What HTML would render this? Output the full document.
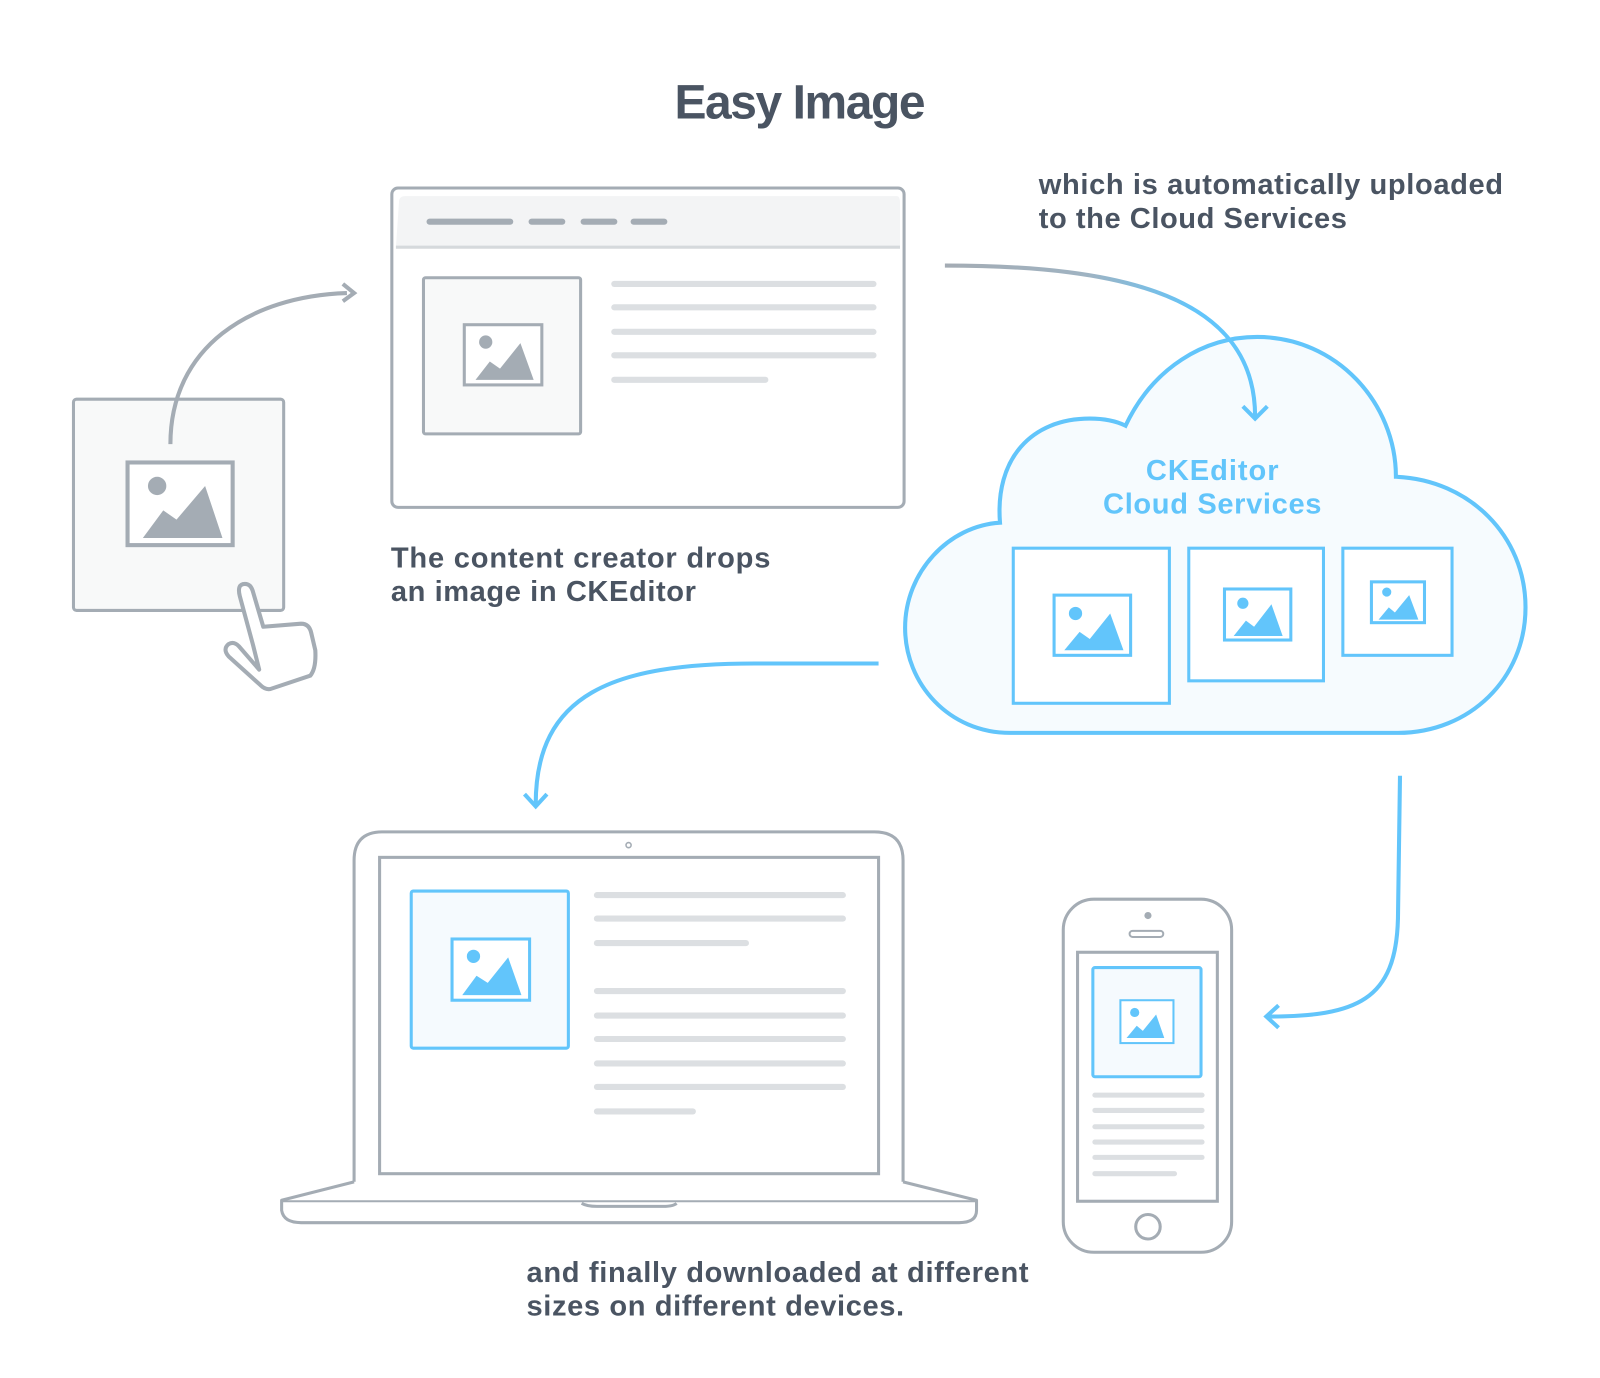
<!DOCTYPE html>
<html><head><meta charset="utf-8"><style>
html,body{margin:0;padding:0;background:#fff;}
svg{display:block;}
text{font-family:"Liberation Sans",sans-serif;font-weight:bold;}
</style></head><body>
<svg width="1600" height="1378" viewBox="0 0 1568 1350" xmlns="http://www.w3.org/2000/svg">
<defs>
<linearGradient id="g1" x1="926" y1="0" x2="1235" y2="0" gradientUnits="userSpaceOnUse">
<stop offset="0" stop-color="#a4acb4"/><stop offset="0.45" stop-color="#9fb3c2"/><stop offset="0.8" stop-color="#62c5fb"/></linearGradient>
</defs>
<rect width="1568" height="1350" fill="#fff"/>
<text x="784" y="116" font-size="47" fill="#4a5462" text-anchor="middle" textLength="246">Easy Image</text>

<!-- small image box -->
<rect x="72" y="391" width="206" height="207" rx="3" fill="#f8f9f9" stroke="#a4acb4" stroke-width="3"/>
<rect x="125" y="453" width="103" height="81" fill="#fff" stroke="#a4acb4" stroke-width="4"/>
<circle cx="154" cy="476" r="9" fill="#a4acb4"/>
<path d="M140,527 L160,500 L173,509 L201,476 L218,527 Z" fill="#a4acb4"/>
<path d="M167,435 C167,340 245,290 340,287" fill="none" stroke="#a4acb4" stroke-width="4"/>
<path d="M336,278 L347,287 L336,295" fill="none" stroke="#a4acb4" stroke-width="4"/>
<!-- hand -->
<path d="M248,632 L235,584 Q232,572 240,572 Q246,572 248,580 L258,614 L295,611 Q303,611 305,620 L309,637 Q310,655 304,662 L265,675 Q260,676 255,671 L224,643 Q218,636 224,631 Q229,628 234,633 L254,656 Z" fill="#fff" stroke="#a4acb4" stroke-width="4" stroke-linejoin="round"/>

<!-- browser -->
<rect x="384" y="184" width="502" height="313" rx="6" fill="#fff" stroke="#a4acb4" stroke-width="3"/>
<path d="M391,198 Q391,192 397,192 L879,192 Q882,192 882,198 L882,242 L388,242 Z" fill="#f3f4f5"/>
<line x1="388" y1="242" x2="882" y2="242" stroke="#d5d9dc" stroke-width="3"/>
<g stroke="#a4acb4" stroke-width="6" stroke-linecap="round">
<line x1="421" y1="217" x2="500" y2="217"/><line x1="521" y1="217" x2="551" y2="217"/><line x1="572" y1="217" x2="602" y2="217"/><line x1="621" y1="217" x2="651" y2="217"/></g>
<rect x="415" y="272" width="154" height="153" rx="2" fill="#f8f9f9" stroke="#a4acb4" stroke-width="3"/>
<rect x="455" y="318" width="76" height="59" fill="#fff" stroke="#a4acb4" stroke-width="3"/>
<circle cx="476" cy="335" r="6.5" fill="#a4acb4"/>
<path d="M466,372 L480,354 L490,361 L510,336 L523,372 Z" fill="#a4acb4"/>
<g stroke="#dcdfe2" stroke-width="6" stroke-linecap="round">
<line x1="602" y1="278" x2="856" y2="278"/><line x1="602" y1="301" x2="856" y2="301"/><line x1="602" y1="325" x2="856" y2="325"/><line x1="602" y1="348" x2="856" y2="348"/><line x1="602" y1="372" x2="750" y2="372"/></g>

<text font-size="28.5" fill="#4a5462"><tspan x="383" y="556" textLength="372">The content creator drops</tspan><tspan x="383" y="589" textLength="299">an image in CKEditor</tspan></text>
<text font-size="28.5" fill="#4a5462"><tspan x="1018" y="190" textLength="455">which is automatically uploaded</tspan><tspan x="1018" y="223" textLength="302">to the Cloud Services</tspan></text>
<text font-size="28.5" fill="#4a5462"><tspan x="516" y="1256" textLength="492">and finally downloaded at different</tspan><tspan x="516" y="1289" textLength="370">sizes on different devices.</tspan></text>

<!-- cloud -->
<path d="M990,718 C930,718 887,670 887,615 C887,560 930,515 980,512 C975,450 1010,410 1068,410 C1085,410 1095,413 1103,417 C1130,360 1180,330 1232,330 C1310,330 1368,395 1368,467 C1440,470 1495,525 1495,595 C1495,665 1440,718 1370,718 Z" fill="#f6fbfe" stroke="#62c5fb" stroke-width="4"/>
<text font-size="28.5" fill="#62c5fb" text-anchor="middle"><tspan x="1188" y="470" textLength="130">CKEditor</tspan><tspan x="1188" y="503" textLength="214">Cloud Services</tspan></text>
<g fill="#fff" stroke="#62c5fb" stroke-width="3">
<rect x="993" y="537" width="153" height="152"/><rect x="1165" y="537" width="132" height="130"/><rect x="1316" y="537" width="107" height="105"/>
<rect x="1033" y="583" width="75" height="59"/><rect x="1200" y="577" width="65" height="50"/><rect x="1344" y="570" width="52" height="40"/></g>
<g fill="#62c5fb">
<circle cx="1054" cy="601" r="6.5"/><path d="M1043,637 L1058,619 L1068,626 L1088,601 L1101,637 Z"/>
<circle cx="1218" cy="591" r="5.5"/><path d="M1209,623 L1221,608 L1229,614 L1246,592 L1257,623 Z"/>
<circle cx="1359" cy="580" r="4.5"/><path d="M1351,607 L1361,595 L1367,600 L1381,583 L1390,607 Z"/></g>

<!-- arrows -->
<path d="M926,260 C1100,260 1230,290 1230,408" fill="none" stroke="url(#g1)" stroke-width="4"/>
<path d="M1218,398 L1230,410 L1242,398" fill="none" stroke="#62c5fb" stroke-width="4"/>
<path d="M861,650 L740,650 C600,650 525,680 525,788" fill="none" stroke="#62c5fb" stroke-width="4"/>
<path d="M514,778 L525,790 L536,778" fill="none" stroke="#62c5fb" stroke-width="4"/>
<path d="M1372,760 L1370,900 C1368,980 1330,996 1242,996" fill="none" stroke="#62c5fb" stroke-width="4"/>
<path d="M1253,985 L1241,996 L1253,1007" fill="none" stroke="#62c5fb" stroke-width="4"/>

<!-- laptop -->
<path d="M347,1158 L347,843 Q347,815 375,815 L857,815 Q885,815 885,843 L885,1158" fill="#fff" stroke="#a4acb4" stroke-width="3"/>
<rect x="372" y="840" width="489" height="310" fill="#fff" stroke="#a4acb4" stroke-width="3"/>
<circle cx="616" cy="828" r="2.5" fill="none" stroke="#a4acb4" stroke-width="1.5"/>
<path d="M347,1158 L276,1176 L276,1186 Q278,1198 295,1198 L940,1198 Q957,1198 957,1186 L957,1176 L885,1158" fill="#fff" stroke="#a4acb4" stroke-width="3" stroke-linejoin="round"/>
<line x1="276" y1="1177" x2="957" y2="1177" stroke="#a4acb4" stroke-width="2"/>
<path d="M570,1179 Q575,1182 585,1182 L650,1182 Q660,1182 663,1179" fill="none" stroke="#a4acb4" stroke-width="3"/>
<rect x="403" y="873" width="154" height="154" rx="2" fill="#f5fafe" stroke="#62c5fb" stroke-width="3"/>
<rect x="443" y="920" width="76" height="60" fill="#fff" stroke="#62c5fb" stroke-width="3"/>
<circle cx="464" cy="937" r="6.5" fill="#62c5fb"/>
<path d="M453,975 L467,956 L478,963 L498,938 L511,975 Z" fill="#62c5fb"/>
<g stroke="#dcdfe2" stroke-width="6" stroke-linecap="round">
<line x1="585" y1="877" x2="826" y2="877"/><line x1="585" y1="900" x2="826" y2="900"/><line x1="585" y1="924" x2="731" y2="924"/>
<line x1="585" y1="971" x2="826" y2="971"/><line x1="585" y1="995" x2="826" y2="995"/><line x1="585" y1="1018" x2="826" y2="1018"/><line x1="585" y1="1042" x2="826" y2="1042"/><line x1="585" y1="1065" x2="826" y2="1065"/><line x1="585" y1="1089" x2="679" y2="1089"/></g>

<!-- phone -->
<rect x="1042" y="881" width="165" height="346" rx="30" fill="#fff" stroke="#a4acb4" stroke-width="3"/>
<rect x="1056" y="933" width="137" height="244" fill="#fff" stroke="#a4acb4" stroke-width="3"/>
<circle cx="1125" cy="897" r="3.5" fill="#a4acb4"/>
<rect x="1107" y="912" width="33" height="6" rx="3" fill="#fff" stroke="#a4acb4" stroke-width="2"/>
<circle cx="1125" cy="1202" r="12" fill="#fff" stroke="#a4acb4" stroke-width="3"/>
<rect x="1071" y="948" width="106" height="107" rx="2" fill="#f5fafe" stroke="#62c5fb" stroke-width="3"/>
<rect x="1098" y="980" width="52" height="42" fill="#fff" stroke="#62c5fb" stroke-width="2"/>
<circle cx="1112" cy="992" r="4.5" fill="#62c5fb"/>
<path d="M1104,1017 L1114,1005 L1120,1010 L1133,994 L1141,1017 Z" fill="#62c5fb"/>
<g stroke="#dcdfe2" stroke-width="5" stroke-linecap="round">
<line x1="1073" y1="1073" x2="1178" y2="1073"/><line x1="1073" y1="1088" x2="1178" y2="1088"/><line x1="1073" y1="1104" x2="1178" y2="1104"/><line x1="1073" y1="1119" x2="1178" y2="1119"/><line x1="1073" y1="1134" x2="1178" y2="1134"/><line x1="1073" y1="1150" x2="1151" y2="1150"/></g>
</svg>
</body></html>
